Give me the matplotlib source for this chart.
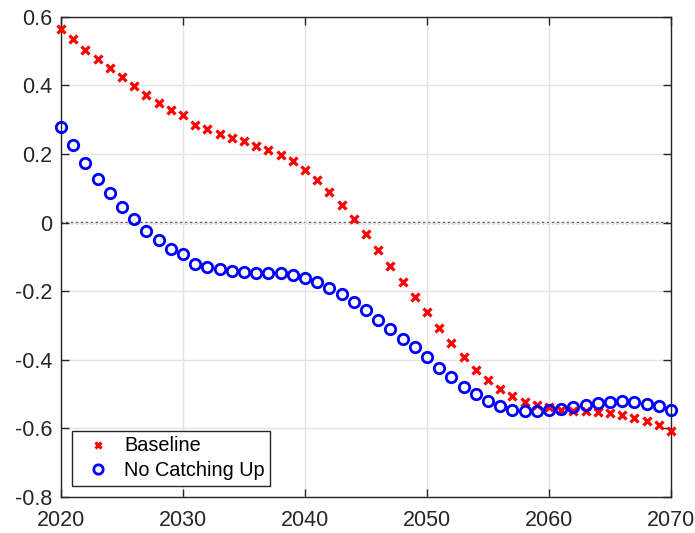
import matplotlib
matplotlib.use("Agg")
import matplotlib.pyplot as plt
import numpy as np

# years shown on the x axis
years = np.arange(2020, 2071)

# series
baseline = [0.564, 0.535, 0.504, 0.476, 0.450, 0.424, 0.397, 0.372, 0.348, 0.328,
            0.312, 0.283, 0.272, 0.259, 0.247, 0.237, 0.223, 0.210, 0.197, 0.178,
            0.154, 0.124, 0.089, 0.052, 0.011, -0.032, -0.080, -0.127, -0.172, -0.217,
            -0.262, -0.307, -0.351, -0.392, -0.429, -0.460, -0.486, -0.507, -0.522, -0.533,
            -0.539, -0.545, -0.548, -0.550, -0.551, -0.554, -0.561, -0.569, -0.579, -0.591,
            -0.607]
no_catching_up = [0.279, 0.226, 0.173, 0.126, 0.085, 0.046, 0.009, -0.025, -0.052, -0.076,
                  -0.092, -0.120, -0.130, -0.136, -0.141, -0.144, -0.146, -0.146, -0.147, -0.152,
                  -0.161, -0.174, -0.191, -0.208, -0.233, -0.256, -0.283, -0.311, -0.338, -0.364,
                  -0.393, -0.424, -0.451, -0.478, -0.501, -0.520, -0.536, -0.545, -0.550, -0.550,
                  -0.547, -0.543, -0.539, -0.532, -0.526, -0.522, -0.521, -0.523, -0.528, -0.536,
                  -0.545]

xticks = [2020, 2030, 2040, 2050, 2060, 2070]
yticks = [-0.8, -0.6, -0.4, -0.2, 0, 0.2, 0.4, 0.6]
ytick_labels = ["-0.8", "-0.6", "-0.4", "-0.2", "0", "0.2", "0.4", "0.6"]

plt.rcParams['font.family'] = ['Liberation Sans', 'DejaVu Sans']

fig = plt.figure(figsize=(6.95, 5.33), dpi=100)
ax = fig.add_axes([0.0878, 0.0675, 0.8777, 0.9012])

ax.grid(True, color='#e3e3e3', linewidth=1.0, zorder=0)
# dotted zero line
ax.axhline(0, color='#404040', linestyle=(0, (1, 1.1)), linewidth=1.7, zorder=1)

ax.plot(years, baseline, linestyle='none', marker='x', color='#ff0000',
        markersize=5.3, markeredgewidth=2.3, label='Baseline', zorder=3, clip_on=False)
ax.plot(years, no_catching_up, linestyle='none', marker='o', markerfacecolor='none',
        markeredgecolor='#0000ff', markersize=7.5, markeredgewidth=2.0,
        label='No Catching Up', zorder=3, clip_on=False)

ax.set_xlim(2020, 2070)
ax.set_ylim(-0.8, 0.6)
ax.set_xticks(xticks)
ax.set_yticks(yticks)
ax.set_yticklabels(ytick_labels)

for s in ax.spines.values():
    s.set_color('#262626')
    s.set_linewidth(1.0)
ax.tick_params(direction='in', length=6, width=1, colors='#262626',
               labelsize=15.5, top=True, right=True, pad=6)
ax.tick_params(axis='x', pad=9)

leg = ax.legend(loc='lower left', bbox_to_anchor=(0.018, 0.023), fontsize=14.3,
                frameon=True, fancybox=False, edgecolor='#262626', framealpha=1,
                borderpad=0.28, handlelength=2.05, handletextpad=0.3,
                borderaxespad=0, labelspacing=0.3, markerscale=0.9)
leg.get_frame().set_linewidth(1.0)

fig.savefig("out.png", dpi=100)
